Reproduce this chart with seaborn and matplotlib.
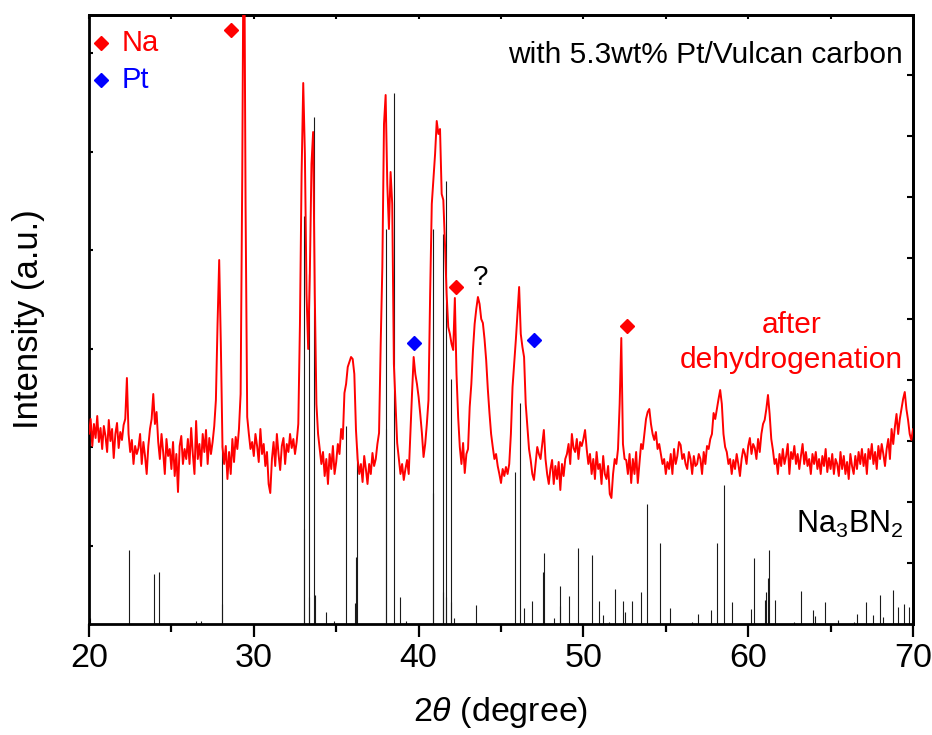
"""XRD pattern after dehydrogenation with Na3BN2 reference sticks."""
import matplotlib.pyplot as plt
import numpy as np
import seaborn as sns

# measured pattern (red), 20-70 deg in 0.1 deg steps, arbitrary units
intensity = [
    190, 205, 178, 200, 186, 208, 182, 196, 175, 198,  # 20
    188, 172, 204, 183, 195, 166, 190, 201, 176, 192,  # 21
    184, 199, 205, 246, 190, 172, 184, 160, 178, 170,  # 22
    176, 190, 160, 182, 168, 150, 178, 195, 205, 230,  # 23
    200, 212, 182, 165, 190, 172, 150, 185, 168, 175,  # 24
    155, 182, 148, 170, 132, 178, 188, 160, 175, 165,  # 25
    185, 160, 196, 170, 150, 203, 165, 180, 158, 190,  # 26
    172, 194, 160, 186, 170, 182, 198, 224, 300, 364,  # 27
    280, 177, 160, 178, 145, 172, 150, 185, 162, 187,  # 28
    175, 195, 230, 450, 760, 420, 207, 190, 175, 182,  # 29
    168, 190, 178, 162, 195, 170, 180, 158, 172, 140,  # 30
    131, 165, 182, 158, 190, 170, 154, 178, 186, 160,  # 31
    180, 172, 190, 176, 185, 170, 182, 200, 300, 450,  # 32
    541, 470, 330, 275, 350, 460, 492, 330, 220, 190,  # 33
    175, 160, 172, 148, 165, 140, 170, 155, 178, 150,  # 34
    162, 180, 170, 195, 185, 231, 240, 257, 262, 267,  # 35
    265, 250, 194, 165, 150, 160, 142, 168, 155, 140,  # 36
    160, 150, 171, 158, 165, 180, 191, 280, 357, 500,  # 37
    529, 440, 395, 452, 420, 260, 220, 181, 165, 150,  # 38
    160, 144, 155, 164, 150, 190, 230, 267, 250, 240,  # 39
    227, 210, 191, 167, 180, 200, 224, 330, 420, 445,  # 40
    470, 503, 490, 495, 430, 424, 380, 330, 297, 290,  # 41
    280, 274, 326, 250, 207, 177, 160, 181, 151, 170,  # 42
    175, 217, 240, 274, 300, 315, 327, 320, 305, 301,  # 43
    285, 264, 235, 211, 190, 177, 165, 170, 158, 150,  # 44
    141, 155, 148, 157, 150, 160, 190, 237, 260, 284,  # 45
    310, 337, 290, 277, 267, 220, 197, 175, 164, 150,  # 46
    144, 160, 177, 170, 165, 180, 194, 165, 150, 140,  # 47
    155, 164, 140, 158, 145, 162, 134, 160, 148, 165,  # 48
    170, 180, 160, 190, 176, 172, 185, 165, 182, 178,  # 49
    185, 194, 175, 160, 170, 150, 165, 145, 172, 155,  # 50
    160, 140, 168, 150, 145, 158, 130, 126, 150, 165,  # 51
    160, 175, 220, 286, 180, 165, 164, 150, 170, 141,  # 52
    165, 150, 172, 141, 160, 180, 175, 190, 205, 212,  # 53
    215, 200, 190, 184, 192, 175, 180, 170, 160, 165,  # 54
    150, 162, 155, 170, 150, 175, 160, 168, 182, 179,  # 55
    165, 170, 160, 155, 172, 165, 150, 168, 158, 160,  # 56
    170, 165, 150, 172, 160, 178, 175, 185, 190, 211,  # 57
    205, 215, 225, 234, 220, 190, 177, 172, 160, 165,  # 58
    150, 164, 155, 170, 160, 148, 165, 175, 170, 160,  # 59
    178, 186, 170, 180, 176, 165, 185, 172, 190, 200,  # 60
    204, 215, 229, 210, 185, 174, 160, 165, 150, 170,  # 61
    158, 175, 160, 168, 180, 150, 172, 165, 178, 160,  # 62
    170, 155, 168, 180, 160, 172, 158, 165, 150, 170,  # 63
    160, 172, 155, 165, 150, 168, 158, 175, 152, 166,  # 64
    155, 170, 150, 165, 160, 148, 172, 155, 168, 150,  # 65
    162, 145, 170, 158, 150, 168, 155, 172, 160, 175,  # 66
    158, 170, 150, 175, 165, 180, 160, 172, 155, 178,  # 67
    165, 180, 170, 158, 175, 185, 165, 195, 180, 197,  # 68
    210, 190, 205, 215, 225, 232, 215, 204, 190, 184,  # 69
    195,
]
two_theta = np.linspace(20, 70, len(intensity))

# Na3BN2 reference pattern (black sticks)
ref_pos = [20.06, 22.44, 23.92, 24.26, 26.50, 26.78, 28.06, 28.10, 33.03, 33.05,
           33.34, 33.36, 33.68, 33.70, 34.37, 34.86, 35.57, 36.14, 36.22, 36.24,
           38.03, 38.05, 38.53, 38.88, 39.24, 40.85, 40.87, 41.47, 41.49, 41.66,
           41.68, 41.96, 41.98, 42.17, 43.50, 45.84, 46.13, 46.39, 46.90, 47.57,
           47.62, 48.24, 48.58, 48.60, 49.11, 49.68, 50.51, 50.92, 51.16, 51.57,
           51.91, 52.40, 52.54, 52.95, 53.52, 53.83, 54.64, 55.26, 56.60, 56.95,
           57.74, 58.10, 58.53, 59.04, 60.20, 60.34, 61.03, 61.11, 61.21, 61.29,
           61.64, 62.77, 63.22, 63.95, 64.07, 64.66, 65.43, 66.43, 66.61, 67.12,
           67.60, 67.97, 68.19, 68.78, 69.07, 69.45, 69.77, 69.94]
ref_height = [6, 74, 50, 52, 3, 3, 179, 20, 408, 95,
              350, 27, 507, 29, 12, 3, 198, 21, 67, 176,
              395, 195, 531, 27, 3, 395, 131, 390, 32, 443,
              27, 245, 22, 6, 19, 152, 221, 16, 23, 52,
              71, 6, 38, 18, 28, 76, 69, 23, 9, 2,
              35, 23, 12, 23, 32, 120, 81, 16, 2, 10,
              14, 81, 139, 22, 15, 66, 24, 32, 46, 74,
              24, 2, 33, 14, 8, 22, 4, 2, 10, 22,
              9, 29, 7, 34, 17, 20, 17, 4]

# phase markers
na_pos = [28.60, 42.25, 52.67]
na_y = [594, 337, 298]
pt_pos = [39.70, 47.00]
pt_y = [281, 284]

sns.set_style('ticks')
plt.rcParams['font.family'] = ['Liberation Sans', 'DejaVu Sans']
plt.rcParams['mathtext.fontset'] = 'custom'
plt.rcParams['mathtext.rm'] = 'Liberation Sans'
plt.rcParams['mathtext.it'] = 'Liberation Sans:italic'
for key in ('text.color', 'axes.labelcolor', 'axes.edgecolor',
            'xtick.color', 'ytick.color'):
    plt.rcParams[key] = 'black'

fig = plt.figure(figsize=(9.32, 7.35), dpi=100)
ax = fig.add_axes([89 / 932, 111 / 735, 824 / 932, 609 / 735])

ax.vlines(ref_pos, 0, ref_height, color='0.1', lw=0.8, zorder=2)
sns.lineplot(x=two_theta, y=intensity, color='red', lw=1.4,
             estimator=None, ax=ax, zorder=3)

ax.plot(na_pos, na_y, 'D', color='red', ms=7.5, zorder=4)
ax.plot(pt_pos, pt_y, 'D', color='blue', ms=7.5, zorder=4)

# legend-like labels in the corner
ax.plot([20.71], [581], 'D', color='red', ms=7.2, clip_on=False)
ax.plot([20.71], [544], 'D', color='blue', ms=7.2, clip_on=False)
ax.text(21.96, 573, 'Na', color='red', fontsize=21, va='baseline')
ax.text(21.96, 536, 'Pt', color='blue', fontsize=21, va='baseline')

ax.text(69.39, 561, 'with 5.3wt% Pt/Vulcan carbon', fontsize=21.5,
        ha='right', va='baseline')
ax.text(43.75, 339, '?', fontsize=20, ha='center', va='baseline')
ax.text(62.64, 291, 'after', color='red', fontsize=21.5, ha='center', va='baseline')
ax.text(62.64, 256, 'dehydrogenation', color='red', fontsize=21.5,
        ha='center', va='baseline')
ax.text(69.43, 91, r'Na$_3$BN$_2$', fontsize=22, ha='right', va='baseline')

ax.set_xlim(20, 70)
ax.set_ylim(0, 609)
ax.set_xticks(range(20, 71, 10))
ax.set_xticks(range(25, 70, 10), minor=True)
ax.tick_params(axis='x', which='major', direction='out', length=9, width=1.6,
               labelsize=24.5, pad=5)
ax.tick_params(axis='x', which='minor', direction='out', length=5.5, width=1.6)
ax.set_yticks([78, 177, 275, 374, 472, 571])
ax.tick_params(axis='y', direction='in', length=3, width=1.5, labelleft=False)

top = ax.secondary_xaxis('top')
top.set_xticks(range(20, 71, 5))
top.tick_params(direction='in', length=3, width=1.5, labeltop=False)
right = ax.secondary_yaxis('right')
right.set_yticks([61, 122, 183, 244, 305, 366, 427, 488, 549])
right.tick_params(direction='in', length=4, width=1.5, labelright=False)

for a in (ax, top, right):
    for s in a.spines.values():
        s.set_linewidth(2)

ax.set_xlabel(r'2$\theta$ (degree)', fontsize=24.5, labelpad=15)
ax.set_ylabel('Intensity (a.u.)', fontsize=25, labelpad=32)

fig.savefig('out.png', dpi=100)
